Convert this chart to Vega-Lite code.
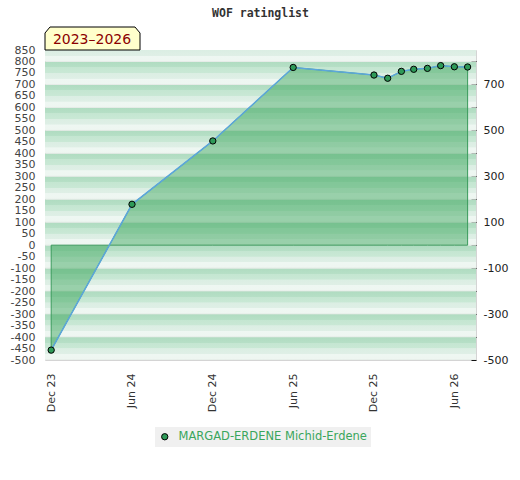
{
  "$schema": "https://vega.github.io/schema/vega-lite/v6.json",
  "autosize": "none",
  "width": 431,
  "height": 310,
  "padding": {"left": 45, "top": 50, "right": 44, "bottom": 120},
  "background": "white",
  "config": {
    "font": "DejaVu Sans",
    "view": {"stroke": "#d4d4d4", "strokeWidth": 1}
  },
  "title": {
    "text": "WOF ratinglist",
    "font": "DejaVu Sans Mono",
    "fontSize": 11.5,
    "fontWeight": "bold",
    "color": "#333333",
    "anchor": "middle",
    "baseline": "alphabetic",
    "offset": -3
  },
  "datasets": {
    "ratings": [
      {"date": "2023-12-01T00:00:00", "rating": -457, "player": "MARGAD-ERDENE Michid-Erdene"},
      {"date": "2024-06-01T00:00:00", "rating": 178, "player": "MARGAD-ERDENE Michid-Erdene"},
      {"date": "2024-12-01T00:00:00", "rating": 454, "player": "MARGAD-ERDENE Michid-Erdene"},
      {"date": "2025-06-01T00:00:00", "rating": 774, "player": "MARGAD-ERDENE Michid-Erdene"},
      {"date": "2025-12-01T00:00:00", "rating": 741, "player": "MARGAD-ERDENE Michid-Erdene"},
      {"date": "2026-01-01T00:00:00", "rating": 727, "player": "MARGAD-ERDENE Michid-Erdene"},
      {"date": "2026-02-01T00:00:00", "rating": 757, "player": "MARGAD-ERDENE Michid-Erdene"},
      {"date": "2026-03-01T00:00:00", "rating": 766, "player": "MARGAD-ERDENE Michid-Erdene"},
      {"date": "2026-04-01T00:00:00", "rating": 770, "player": "MARGAD-ERDENE Michid-Erdene"},
      {"date": "2026-05-01T00:00:00", "rating": 782, "player": "MARGAD-ERDENE Michid-Erdene"},
      {"date": "2026-06-01T00:00:00", "rating": 777, "player": "MARGAD-ERDENE Michid-Erdene"},
      {"date": "2026-07-01T00:00:00", "rating": 776, "player": "MARGAD-ERDENE Michid-Erdene"}
    ],
    "stripes": [
      {"lo": -500, "hi": -400},
      {"lo": -400, "hi": -300},
      {"lo": -300, "hi": -200},
      {"lo": -200, "hi": -100},
      {"lo": -100, "hi": 0},
      {"lo": 0, "hi": 100},
      {"lo": 100, "hi": 200},
      {"lo": 200, "hi": 300},
      {"lo": 300, "hi": 400},
      {"lo": 400, "hi": 500},
      {"lo": 500, "hi": 600},
      {"lo": 600, "hi": 700},
      {"lo": 700, "hi": 800},
      {"lo": 800, "hi": 900}
    ],
    "label": [
      {"period": "2023–2026", "start": "2023-11-17T00:00:00", "top": 850}
    ]
  },
  "resolve": {"axis": {"y": "independent"}},
  "layer": [
    {
      "data": {"name": "stripes"},
      "mark": {
        "type": "rect",
        "clip": true,
        "color": {
          "gradient": "linear",
          "x1": 0, "y1": 0, "x2": 0, "y2": 1,
          "stops": [
            {"offset": 0, "color": "#dde5e0"},
            {"offset": 0.03, "color": "#b0dcc1"},
            {"offset": 0.24, "color": "#b6dfc6"},
            {"offset": 0.25, "color": "#c4e6d1"},
            {"offset": 0.49, "color": "#c9e8d5"},
            {"offset": 0.5, "color": "#dbeee3"},
            {"offset": 0.74, "color": "#dfefe6"},
            {"offset": 0.75, "color": "#eef7f2"},
            {"offset": 0.96, "color": "#eef6f1"},
            {"offset": 1, "color": "#dfe6e1"}
          ]
        }
      },
      "encoding": {
        "x": {
          "datum": {"year": 2023, "month": 11, "date": 17},
          "type": "temporal",
          "scale": {
            "domain": [
              {"year": 2023, "month": 11, "date": 17},
              {"year": 2026, "month": 7, "date": 20}
            ]
          },
          "axis": {
            "values": [
              {"year": 2023, "month": 12, "date": 1},
              {"year": 2024, "month": 6, "date": 1},
              {"year": 2024, "month": 12, "date": 1},
              {"year": 2025, "month": 6, "date": 1},
              {"year": 2025, "month": 12, "date": 1},
              {"year": 2026, "month": 6, "date": 1}
            ],
            "format": "%b %y",
            "labelAngle": -90,
            "labelFontSize": 11,
            "labelColor": "#333333",
            "labelPadding": 13,
            "ticks": false,
            "domain": false,
            "grid": false,
            "title": null,
            "labelOverlap": false
          }
        },
        "x2": {"datum": {"year": 2026, "month": 7, "date": 20}},
        "y": {
          "field": "hi",
          "type": "quantitative",
          "scale": {"domain": [-500, 850], "nice": false, "zero": false},
          "axis": {
            "orient": "left",
            "values": [-500, -450, -400, -350, -300, -250, -200, -150, -100, -50, 0, 50, 100, 150, 200, 250, 300, 350, 400, 450, 500, 550, 600, 650, 700, 750, 800, 850],
            "labelExpr": "toString(datum.value)",
            "labelFontSize": 11,
            "labelColor": "#444444",
            "labelPadding": 10,
            "ticks": false,
            "domain": false,
            "grid": false,
            "title": null,
            "labelOverlap": false,
            "labelBound": false,
            "labelFlush": false
          }
        },
        "y2": {"field": "lo"}
      }
    },
    {
      "data": {"name": "ratings"},
      "mark": {
        "type": "area",
        "fill": "#2ea050",
        "fillOpacity": 0.44,
        "stroke": "#3a9a5c",
        "strokeWidth": 1
      },
      "encoding": {
        "x": {"field": "date", "type": "temporal"},
        "y": {
          "field": "rating",
          "type": "quantitative",
          "axis": {
            "orient": "right",
            "values": [-500, -400, -300, -200, -100, 0, 100, 200, 300, 400, 500, 600, 700, 800],
            "labelExpr": "(datum.value / 100) % 2 != 0 ? toString(datum.value) : ''",
            "labelFontSize": 11,
            "labelColor": "#222222",
            "tickSize": -5,
            "tickColor": "#111111",
            "labelPadding": 12,
            "domain": false,
            "grid": false,
            "title": null,
            "labelOverlap": false,
            "labelBound": false,
            "labelFlush": false
          }
        },
        "y2": {"datum": 0}
      }
    },
    {
      "data": {"name": "ratings"},
      "mark": {"type": "line", "color": "#5ca6dc", "strokeWidth": 1.5},
      "encoding": {
        "x": {"field": "date", "type": "temporal"},
        "y": {"field": "rating", "type": "quantitative", "axis": null}
      }
    },
    {
      "data": {"name": "ratings"},
      "mark": {"type": "point", "filled": true, "stroke": "#000000", "strokeWidth": 1, "size": 40, "opacity": 1},
      "encoding": {
        "x": {"field": "date", "type": "temporal"},
        "y": {"field": "rating", "type": "quantitative", "axis": null},
        "color": {
          "field": "player",
          "type": "nominal",
          "scale": {"range": ["#2e9a58"]},
          "legend": {
            "orient": "none",
            "legendX": 110,
            "legendY": 377,
            "direction": "horizontal",
            "title": null,
            "fillColor": "#f0f0f0",
            "padding": 4,
            "labelColor": "#3aa65c",
            "labelFontSize": 11.5,
            "labelFont": "DejaVu Sans",
            "labelLimit": 400,
            "symbolType": "circle",
            "symbolSize": 40,
            "symbolStrokeColor": "#000000",
            "symbolStrokeWidth": 1,
            "labelOffset": 8,
            "encode": {
              "symbols": {"update": {"stroke": {"value": "#000000"}, "strokeWidth": {"value": 1}, "opacity": {"value": 1}}}
            }
          }
        }
      }
    },
    {
      "data": {"name": "label"},
      "mark": {
        "type": "point",
        "shape": "M0,0 L0,-17 L5,-23 L90,-23 L95,-17 L95,0 Z",
        "size": 4,
        "filled": true,
        "fill": "#ffffcc",
        "stroke": "#000000",
        "strokeWidth": 1,
        "opacity": 1
      },
      "encoding": {
        "x": {"field": "start", "type": "temporal"},
        "y": {"field": "top", "type": "quantitative", "axis": null}
      }
    },
    {
      "data": {"name": "label"},
      "mark": {
        "type": "text",
        "align": "center",
        "baseline": "middle",
        "dx": 47,
        "dy": -10,
        "fontSize": 14,
        "font": "DejaVu Sans",
        "color": "#8b0000"
      },
      "encoding": {
        "x": {"field": "start", "type": "temporal"},
        "y": {"field": "top", "type": "quantitative", "axis": null},
        "text": {"field": "period"}
      }
    }
  ]
}
